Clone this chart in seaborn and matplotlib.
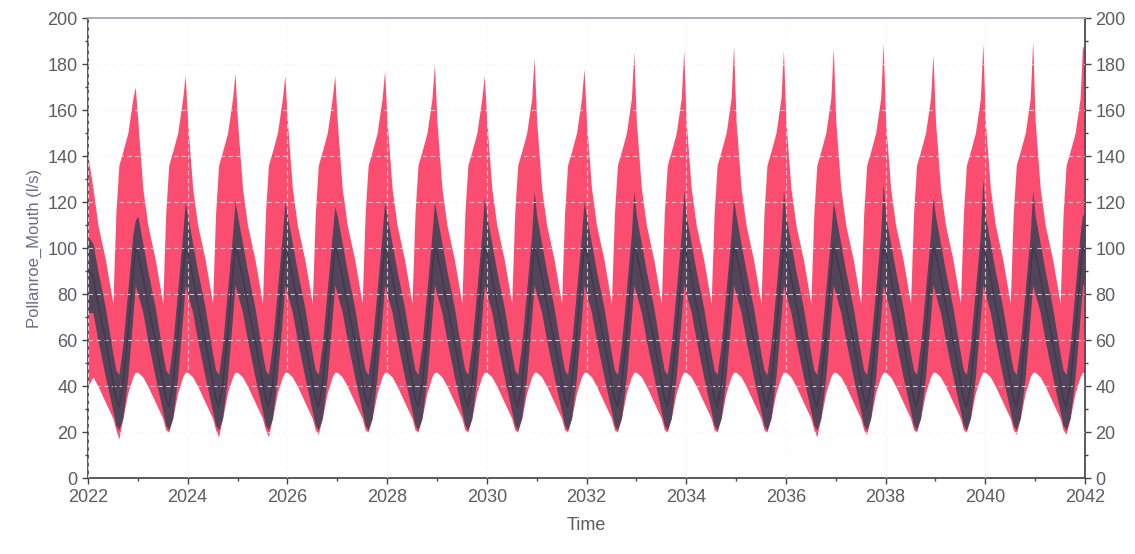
import matplotlib
matplotlib.use("Agg")
import matplotlib.pyplot as plt
import seaborn as sns
import pandas as pd

# values (l/s)
years = list(range(2022, 2042))
# position inside a year for each vertex of the seasonal cycle
phase = [0.00, 0.10, 0.20, 0.35, 0.50, 0.56, 0.62, 0.70, 0.80, 0.90, 0.95]

# seasonal shape of each band edge, as read off a typical year
upper_shape = [155, 126, 110, 95, 76, 115, 136, 142, 150, 165, 175]
lower_shape = [46, 44, 40, 33, 26, 21, 19, 26, 37, 44, 46]
q75_shape = [114, 102, 90, 74, 54, 47, 45, 58, 82, 106, 120]
q50_shape = [98, 88, 76, 60, 42, 35, 31, 40, 62, 88, 100]
q25_shape = [80, 72, 60, 44, 29, 23, 21, 26, 44, 70, 84]

# yearly extremes (peak near end of year, trough around August)
upper_peak = [170, 175, 176, 175, 175, 177, 180, 175, 183, 178,
              185, 186, 188, 186, 187, 189, 184, 189, 190, 188]
lower_trough = [17, 20, 18, 18, 19, 20, 20, 20, 20, 20,
                20, 20, 20, 20, 18, 19, 20, 20, 19, 19]
dark_peak = [112, 120, 120, 120, 118, 120, 120, 122, 125, 120,
             125, 125, 122, 125, 120, 128, 122, 130, 125, 115]

# first and last points of the record: upper, lower, q25, q50, q75
start_vals = [140, 40, 72, 90, 105]
end_vals = [185, 46, 85, 98, 112]

PEAK_J = phase.index(0.95)
TROUGH_J = phase.index(0.62)

rows = []
for i, y in enumerate(years):
    for j, ph in enumerate(phase):
        up, lo = upper_shape[j], lower_shape[j]
        a, m, b = q25_shape[j], q50_shape[j], q75_shape[j]
        if j == PEAK_J:
            up = upper_peak[i]
            b = dark_peak[i]
        if j == TROUGH_J:
            lo = lower_trough[i]
        if i == 0 and j == 0:
            up, lo, a, m, b = start_vals
        rows.append((y + ph, up, lo, a, m, b))
rows.append((2042.0, *end_vals))
df = pd.DataFrame(rows, columns=["time", "upper", "lower", "q25", "q50", "q75"])

sns.set_style("white")
plt.rcParams["font.family"] = ["Liberation Sans", "DejaVu Sans"]

RED = "#fb4d70"
DARK = "#524459"
TXT = "#5c5c66"

fig = plt.figure(figsize=(11.35, 5.54), dpi=100)
ax = fig.add_axes([0.0775, 0.137, 0.8785, 0.8305])

ax.fill_between(df["time"], df["lower"], df["upper"], color=RED, lw=0, zorder=1)
ax.fill_between(df["time"], df["q25"], df["q75"], color=DARK, lw=0, zorder=2)
sns.lineplot(data=df, x="time", y="q50", color="#45384d", lw=1.2, ax=ax, zorder=3)

ax.set_xlim(2022, 2042)
ax.set_ylim(0, 200)
ax.set_xticks(range(2022, 2043, 2))
ax.set_xticks(range(2022, 2043, 1), minor=True)
ax.set_yticks(range(0, 201, 20))
ax.set_yticks(range(0, 201, 10), minor=True)

ax.grid(True, which="major", color="#fbf3f6", lw=0.8, ls=(0, (4, 3)), alpha=0.75)
ax.set_axisbelow(False)
for gl in ax.get_xgridlines() + ax.get_ygridlines():
    gl.set_zorder(4)
ax.get_ygridlines()[-1].set_visible(False)

ax.tick_params(axis="both", which="major", labelsize=13, labelcolor=TXT,
               color="#444444", length=4, width=1, direction="out",
               right=True, labelright=True, left=True, bottom=True)
ax.tick_params(axis="both", which="minor", color="#444444", length=2,
               width=1, direction="out", left=True, right=True, bottom=True)

for side in ["left", "right", "bottom"]:
    ax.spines[side].set_color("#4a4a52")
    ax.spines[side].set_linewidth(1.3)
ax.spines["top"].set_color("#a3a8c0")
ax.spines["top"].set_linewidth(1.3)
ax.spines["top"].set_zorder(5)

ax.set_ylabel("Pollanroe_Mouth (l/s)", fontsize=12, color="#6c6c92", labelpad=4)
ax.set_xlabel("Time", fontsize=13, color=TXT, labelpad=8)

fig.savefig("out.png", dpi=100)
